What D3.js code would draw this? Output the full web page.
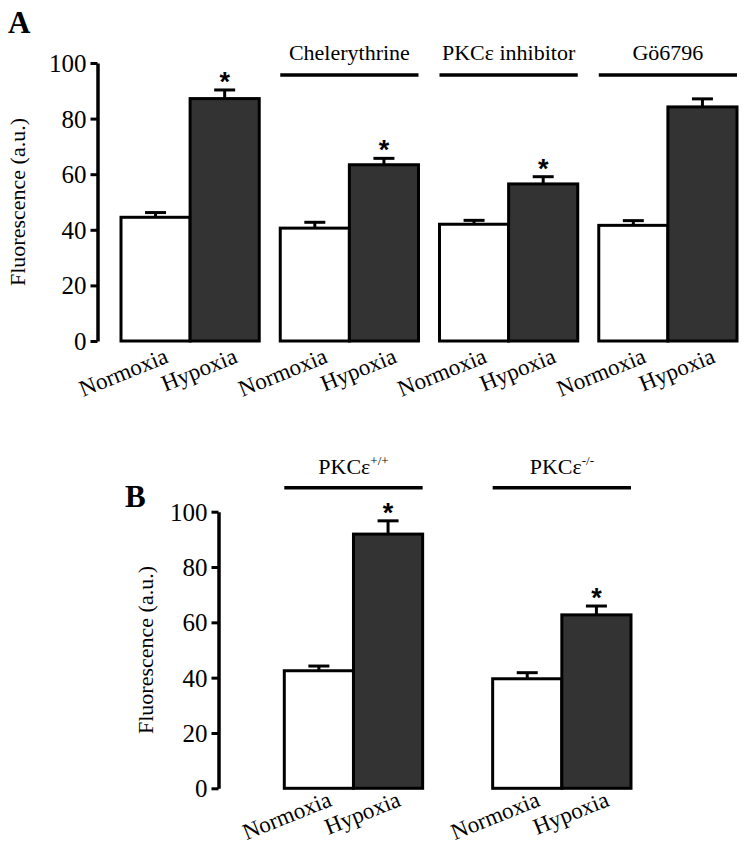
<!DOCTYPE html>
<html>
<head>
<meta charset="utf-8">
<script src="https://cdn.jsdelivr.net/npm/d3@7"></script>
<style>
  body { margin: 0; background: #fff; }
</style>
</head>
<body>
<svg id="chart" width="746" height="847"></svg>
<script>
// panel A data
const groupsA = ['Control', 'Chelerythrine', 'PKCε inhibitor', 'Gö6796'];
const normoxiaA = [44.5, 40.6, 42.0, 41.6];
const normoxiaErrA = [1.7, 2.1, 1.4, 1.7];
const hypoxiaA = [87.2, 63.4, 56.5, 84.2];
const hypoxiaErrA = [3.1, 2.3, 2.6, 2.9];
const starA = [true, true, true, false];

// panel B data
const groupsB = ['PKCε+/+', 'PKCε-/-'];
const normoxiaB = [42.5, 39.6];
const normoxiaErrB = [1.7, 2.2];
const hypoxiaB = [91.9, 62.7];
const hypoxiaErrB = [4.8, 3.2];
const starB = [true, true];

const conditions = ['Normoxia', 'Hypoxia'];
const yTicks = [0, 20, 40, 60, 80, 100];

const SERIF = 'Liberation Serif, Times New Roman, serif';
const SANS = 'Liberation Sans, Arial, sans-serif';

const svg = d3.select('#chart');

// set font by attribute and by style so nothing inherited wins
const font = (sel, size, family = SERIF, weight = 'normal') => sel
  .attr('font-family', family)
  .attr('font-size', size)
  .attr('font-weight', weight)
  .style('font-family', family)
  .style('font-size', `${size}px`)
  .style('font-weight', weight)
  .attr('fill', '#000');

const drawPanel = (cfg) => {
  let g = svg.append('g').classed('panel', true);

  let y = d3.scaleLinear().domain([0, 100]).range([cfg.y0, cfg.y100]);

  let x = d3.scaleBand()
    .domain(cfg.groups)
    .range([cfg.xStart, cfg.xEnd])
    .paddingInner(cfg.pad)
    .paddingOuter(0);

  let xi = d3.scaleBand()
    .domain(conditions)
    .range([0, x.bandwidth()]);

  // y axis
  let axis = g.append('g')
    .attr('transform', `translate(${cfg.axisX},0)`)
    .call(d3.axisLeft(y).tickValues(yTicks).tickSize(7).tickSizeOuter(0).tickPadding(4));

  axis.attr('font-family', null).attr('font-size', null);
  axis.select('.domain').attr('stroke', '#000').attr('stroke-width', 3.5);
  axis.selectAll('.tick line').attr('stroke', '#000').attr('stroke-width', 3);
  axis.selectAll('.tick text').call(font, 25).attr('dy', '0.34em');

  g.append('text')
    .attr('transform', `translate(${cfg.titleX},${(cfg.y0 + cfg.y100) / 2}) rotate(-90)`)
    .attr('text-anchor', 'middle')
    .attr('dominant-baseline', 'central')
    .call(font, 22)
    .text('Fluorescence (a.u.)');

  // panel letter
  g.append('text')
    .attr('x', cfg.letterX)
    .attr('y', cfg.letterY)
    .call(font, 31, SERIF, 'bold')
    .text(cfg.letter);

  let rows = cfg.groups.map((name, i) => ({
    name,
    i,
    values: [
      { cond: 'Normoxia', v: cfg.normoxia[i], e: cfg.normoxiaErr[i] },
      { cond: 'Hypoxia', v: cfg.hypoxia[i], e: cfg.hypoxiaErr[i] }
    ],
    star: cfg.star[i],
    header: cfg.headers[i]
  }));

  let grp = g.selectAll('g.group')
    .data(rows)
    .join('g')
    .classed('group', true)
    .attr('transform', (d) => `translate(${x(d.name)},0)`);

  // error bars (drawn first so the bar outline covers the base)
  grp.selectAll('g.err')
    .data((d) => d.values)
    .join('g')
    .classed('err', true)
    .each(function (d) {
      let cx = xi(d.cond) + xi.bandwidth() / 2;
      let sel = d3.select(this);
      sel.append('line')
        .attr('x1', cx).attr('x2', cx)
        .attr('y1', y(d.v)).attr('y2', y(d.v + d.e))
        .attr('stroke', '#000').attr('stroke-width', 3);
      sel.append('line')
        .attr('x1', cx - 10.5).attr('x2', cx + 10.5)
        .attr('y1', y(d.v + d.e)).attr('y2', y(d.v + d.e))
        .attr('stroke', '#000').attr('stroke-width', 3);
    });

  grp.selectAll('rect.bar')
    .data((d) => d.values)
    .join('rect')
    .classed('bar', true)
    .attr('x', (d) => xi(d.cond))
    .attr('width', xi.bandwidth())
    .attr('y', (d) => y(d.v))
    .attr('height', (d) => y(0) - y(d.v))
    .attr('fill', (d) => d.cond === 'Hypoxia' ? '#333333' : '#ffffff')
    .attr('stroke', '#000')
    .attr('stroke-width', 3);

  // significance stars
  grp.filter((d) => d.star)
    .append('text')
    .attr('x', xi('Hypoxia') + xi.bandwidth() / 2)
    .attr('y', (d) => y(d.values[1].v + d.values[1].e) + 1)
    .attr('text-anchor', 'middle')
    .call(font, 27, SANS, 'bold')
    .text('*');

  // x labels
  grp.selectAll('text.xlab')
    .data((d) => d.values)
    .join('text')
    .classed('xlab', true)
    .attr('text-anchor', 'end')
    .attr('transform', (d) => {
      let px = xi(d.cond) + xi.bandwidth() / 2 + 14;
      let py = y(0) + cfg.labelDy;
      return `translate(${px},${py}) rotate(-22)`;
    })
    .call(font, 23)
    .text((d) => d.cond);

  // group headers
  let head = grp.filter((d) => d.header);

  head.append('line')
    .attr('x1', 0).attr('x2', x.bandwidth())
    .attr('y1', cfg.headerLineY).attr('y2', cfg.headerLineY)
    .attr('stroke', '#000').attr('stroke-width', 3.5);

  head.append('text')
    .attr('x', x.bandwidth() / 2)
    .attr('y', cfg.headerTextY)
    .attr('text-anchor', 'middle')
    .call(font, 22)
    .each(function (d) {
      let t = d3.select(this);
      let h = d.header;
      t.append('tspan').text(h.main);
      if (h.sup) {
        t.append('tspan')
          .attr('dy', -9)
          .attr('font-size', 13)
          .style('font-size', '13px')
          .text(h.sup);
      }
    });
};

drawPanel({
  letter: 'A', letterX: 8, letterY: 33,
  groups: groupsA,
  normoxia: normoxiaA, normoxiaErr: normoxiaErrA,
  hypoxia: hypoxiaA, hypoxiaErr: hypoxiaErrA,
  star: starA,
  headers: [null, { main: 'Chelerythrine' }, { main: 'PKCε inhibitor' }, { main: 'Gö6796' }],
  y0: 341, y100: 63,
  axisX: 97.5, titleX: 17,
  xStart: 121, xEnd: 737, pad: 0.132,
  headerLineY: 75, headerTextY: 60, labelDy: 21
});

drawPanel({
  letter: 'B', letterX: 125, letterY: 507,
  groups: groupsB,
  normoxia: normoxiaB, normoxiaErr: normoxiaErrB,
  hypoxia: hypoxiaB, hypoxiaErr: hypoxiaErrB,
  star: starB,
  headers: [{ main: 'PKCε', sup: '+/+' }, { main: 'PKCε', sup: '-/-' }],
  y0: 788.3, y100: 511.7,
  axisX: 218.5, titleX: 145,
  xStart: 284.3, xEnd: 631, pad: 0.336,
  headerLineY: 487.7, headerTextY: 474, labelDy: 17
});
</script>
</body>
</html>
